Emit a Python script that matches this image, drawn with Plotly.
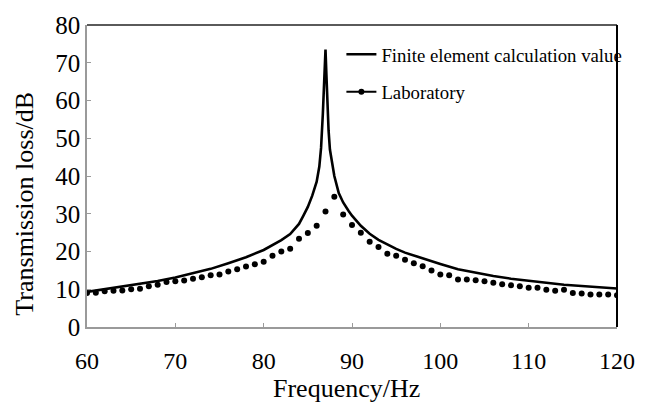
import plotly.graph_objects as go

# Finite element calculation (frequency Hz, transmission loss dB)
fe_freq = [60, 62, 64, 66, 68, 70, 72, 74, 76, 78, 80, 81, 82, 83, 84, 84.5, 85, 85.5,
           86, 86.3, 86.5, 86.7, 86.85, 87.0, 87.1, 87.2, 87.35, 87.5, 87.8, 88.0, 88.5,
           89, 89.6, 90, 91, 92, 93, 94, 95, 96, 97, 98, 99, 100, 102, 104, 106, 108,
           110, 112, 114, 116, 118, 120]
fe_tl = [9.3, 10.0, 10.7, 11.4, 12.2, 13.1, 14.2, 15.4, 16.9, 18.5, 20.4, 21.6, 23.0,
         24.6, 27.3, 29.5, 31.8, 34.8, 38.5, 42.5, 47.5, 56.5, 66.0, 73.5, 67.0, 60.0,
         52.0, 47.0, 42.5, 40.0, 35.5, 33.0, 30.8, 29.5, 26.8, 24.7, 23.1, 21.8, 20.7,
         19.7, 18.9, 18.1, 17.4, 16.7, 15.3, 14.3, 13.5, 12.8, 12.2, 11.7, 11.2, 10.8,
         10.5, 10.2]

# Laboratory measurements
lab_freq = list(range(60, 121))
lab_tl = [9.0, 9.1, 9.5, 9.6, 9.7, 10.0, 10.1, 10.8, 11.2, 11.9, 12.1, 12.3, 12.8, 13.2,
          13.7, 13.9, 14.7, 15.3, 16.0, 16.6, 17.3, 18.9, 20.0, 20.7, 23.4, 24.9, 26.8,
          30.6, 34.5, 29.8, 27.0, 25.0, 22.6, 21.2, 19.4, 18.9, 17.8, 16.9, 16.1, 15.0,
          13.9, 13.7, 12.6, 12.6, 12.4, 12.1, 11.7, 11.3, 11.05, 10.8, 10.4, 10.4, 9.9,
          9.6, 9.9, 9.0, 8.9, 8.6, 8.6, 8.6, 8.4]

x_ticks = [60, 70, 80, 90, 100, 110, 120]
y_ticks = [0, 10, 20, 30, 40, 50, 60, 70, 80]

FONT = "Liberation Serif"

fig = go.Figure()
fig.add_trace(go.Scatter(x=fe_freq, y=fe_tl, mode="lines", name="Finite element calculation value",
                         line=dict(color="black", width=2.6), legendgroup="a"))
fig.add_trace(go.Scatter(x=lab_freq, y=lab_tl, mode="markers", name="Laboratory", showlegend=False,
                         marker=dict(color="black", size=6)))
fig.add_trace(go.Scatter(x=[None], y=[None], mode="lines+markers", name="Laboratory",
                         line=dict(color="black", width=2.2), marker=dict(color="black", size=6),
                         legendgroup="b"))

fig.update_layout(
    width=647, height=403,
    margin=dict(l=87, r=23, t=23, b=76),
    paper_bgcolor="white", plot_bgcolor="white",
    font=dict(family=FONT, color="black", size=24),
    showlegend=True,
    legend=dict(x=0.48, y=0.965, xanchor="left", yanchor="top",
                font=dict(family=FONT, size=18.8, color="black"),
                bgcolor="rgba(0,0,0,0)", tracegroupgap=10, itemwidth=30),
    xaxis=dict(range=[60, 120], tickvals=x_ticks, ticktext=[str(v) for v in x_ticks],
               showgrid=False, zeroline=False, showline=True, linecolor="#9a9a9a", linewidth=1.5,
               ticks="inside", ticklen=4, tickcolor="#9a9a9a", ticklabelstandoff=11,
               tickfont=dict(family=FONT, size=24, color="black")),
    yaxis=dict(range=[0, 80], tickvals=y_ticks, ticktext=[str(v) for v in y_ticks],
               showgrid=False, zeroline=False, showline=True, linecolor="#9a9a9a", linewidth=1.5,
               ticks="inside", ticklen=4, tickcolor="#9a9a9a", ticklabelstandoff=0,
               tickfont=dict(family=FONT, size=25, color="black")),
    shapes=[
        dict(type="line", xref="paper", yref="paper", x0=0, x1=1, y0=1, y1=1,
             line=dict(color="#5a5a5a", width=2)),
        dict(type="line", xref="paper", yref="paper", x0=1, x1=1, y0=0, y1=1,
             line=dict(color="black", width=2)),
    ],
    annotations=[
        dict(text="Frequency/Hz", xref="paper", yref="paper", x=0.49, y=-0.205, xanchor="center",
             yanchor="middle", showarrow=False, font=dict(family=FONT, size=26, color="black")),
        dict(text="Transmission loss/dB", xref="paper", yref="paper", x=-0.118, y=0.41,
             xanchor="center", yanchor="middle", textangle=-90, showarrow=False,
             font=dict(family=FONT, size=26, color="black")),
    ],
)

fig.write_html("out.html")
